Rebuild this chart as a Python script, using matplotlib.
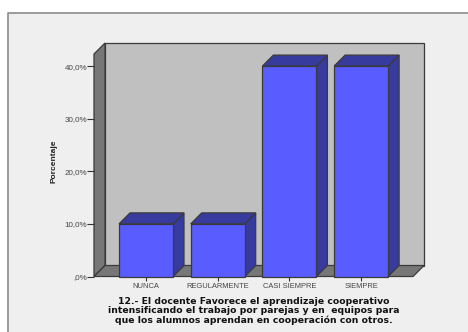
import matplotlib
matplotlib.use('Agg')
import matplotlib.pyplot as plt
from matplotlib.patches import Polygon, Rectangle

# ===================== Data =====================
categories = ['NUNCA', 'REGULARMENTE', 'CASI SIEMPRE', 'SIEMPRE']
values = [10, 10, 40, 40]
yticks = [0, 10, 20, 30, 40]
ylabels = [',0%', '10,0%', '20,0%', '30,0%', '40,0%']
title = ('12.- El docente Favorece el aprendizaje cooperativo\n'
         'intensificando el trabajo por parejas y en  equipos para\n'
         'que los alumnos aprendan en cooperaci\u00f3n con otros.')

W = 468
H = 332
plt.rcParams['font.family'] = ['Liberation Sans', 'DejaVu Sans']

fig = plt.figure(figsize=(W / 100, H / 100), dpi=100, facecolor='white')

# page background, only top and left edges of the frame show
bg = fig.add_axes([0, 0, 1, 1])
bg.set_xlim(0, W)
bg.set_ylim(H, 0)
bg.axis('off')
bg.add_patch(Rectangle((8, 13), W - 8, H - 13, fc='#efefef', ec='none'))
bg.plot([W, 8, 8], [13, 13, H], c='#949494', lw=1.3)

# ===================== Axes (front plane) =====================
x0, x1, y0, y1 = 94, 413, 276.5, 54
ax = fig.add_axes([x0 / W, 1 - y0 / H, (x1 - x0) / W, (y0 - y1) / H])
ax.patch.set_alpha(0)
step = 71.7
ax.set_xlim((x0 - 146) / step, (x1 - 146) / step)
ax.set_ylim(0, (y0 - y1) / 5.26)
dx = 11 / step
dy = 11 / 5.26
xa, xb = ax.get_xlim()
ya, yb = ax.get_ylim()
edge = '#3a3a3a'

def box(ax, pts, color):
    ax.add_patch(Polygon(pts, closed=True, fc=color, ec=edge, lw=0.9, clip_on=False))

# walls and floor
box(ax, [(xa + dx, ya + dy), (xb + dx, ya + dy), (xb + dx, yb + dy), (xa + dx, yb + dy)], '#c0c0c0')
box(ax, [(xa, ya), (xa + dx, ya + dy), (xa + dx, yb + dy), (xa, yb)], '#777777')
box(ax, [(xa, ya), (xb, ya), (xb + dx, ya + dy), (xa + dx, ya + dy)], '#777777')

# ===================== Bars =====================
width = 54 / step
for i in range(len(values)):
    v = values[i]
    l = i - width / 2
    r = i + width / 2
    box(ax, [(r, 0), (r + dx, dy), (r + dx, v + dy), (r, v)], '#373b9e')
    box(ax, [(l, v), (r, v), (r + dx, v + dy), (l + dx, v + dy)], '#373b9e')
    box(ax, [(l, 0), (r, 0), (r, v), (l, v)], '#595cff')

for s in ax.spines.values():
    s.set_visible(False)
ax.set_xticks(range(len(categories)))
ax.set_xticklabels(categories, fontsize=5.4, color='#444444')
ax.set_yticks(yticks)
ax.set_yticklabels(ylabels, fontsize=5.8, color='#444444')
ax.tick_params(axis='x', length=3, width=0.8, color='#333333', pad=1.5)
ax.tick_params(axis='y', length=5, width=0.8, color='#333333', pad=0)
ax.set_ylabel('Porcentaje', fontsize=6.0, fontweight='bold', color='#222222')
ax.yaxis.set_label_coords((57 - x0) / (x1 - x0), (y0 - 161) / (y0 - y1))

bg.text(254, 311, title, ha='center', va='center', fontsize=6.7, fontweight='bold',
        family='DejaVu Sans', color='#111111', linespacing=1.07)

fig.savefig('out.png', dpi=100)
